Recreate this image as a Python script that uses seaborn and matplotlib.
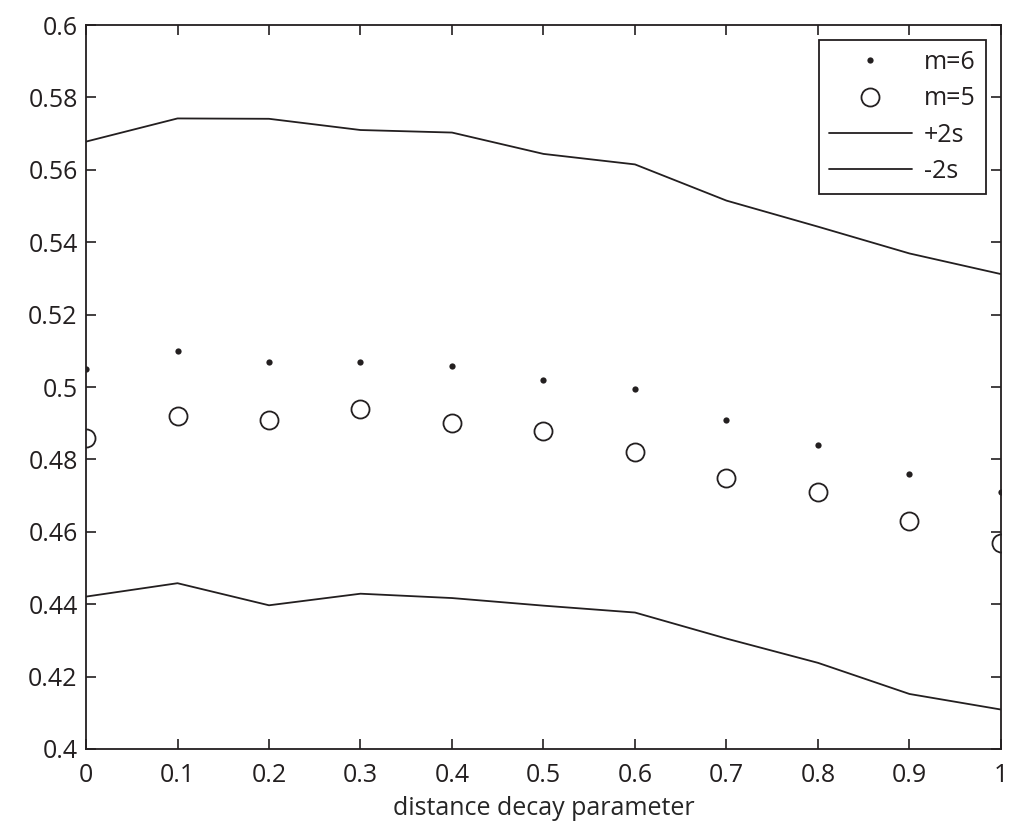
import matplotlib
matplotlib.use("Agg")
import matplotlib.pyplot as plt
import seaborn as sns
import pandas as pd

# distance decay parameter values
decay = [0.0, 0.1, 0.2, 0.3, 0.4, 0.5, 0.6, 0.7, 0.8, 0.9, 1.0]

m6 = [0.5049, 0.5099, 0.5069, 0.5069, 0.5059, 0.5019, 0.4994, 0.4909, 0.4840, 0.4760, 0.4709]
m5 = [0.4860, 0.4920, 0.4909, 0.4939, 0.4900, 0.4879, 0.4820, 0.4750, 0.4710, 0.4631, 0.4570]
plus2s = [0.5678, 0.5742, 0.5741, 0.5710, 0.5703, 0.5644, 0.5615, 0.5515, 0.5443, 0.5369, 0.5312]
minus2s = [0.4421, 0.4458, 0.4397, 0.4429, 0.4417, 0.4396, 0.4377, 0.4305, 0.4238, 0.4152, 0.4109]

xticks = [0, 0.1, 0.2, 0.3, 0.4, 0.5, 0.6, 0.7, 0.8, 0.9, 1]
xticklabels = ['0', '0.1', '0.2', '0.3', '0.4', '0.5', '0.6', '0.7', '0.8', '0.9', '1']
yticks = [0.4, 0.42, 0.44, 0.46, 0.48, 0.5, 0.52, 0.54, 0.56, 0.58, 0.6]
yticklabels = ['0.4', '0.42', '0.44', '0.46', '0.48', '0.5', '0.52', '0.54', '0.56', '0.58', '0.6']

df = pd.DataFrame({'decay': decay, 'm6': m6, 'm5': m5, 'plus2s': plus2s, 'minus2s': minus2s})

sns.set_style('ticks')
plt.rcParams['font.family'] = ['Open Sans', 'DejaVu Sans']
plt.rcParams['text.color'] = '#231f20'
plt.rcParams['xtick.color'] = '#231f20'
plt.rcParams['ytick.color'] = '#231f20'

fig = plt.figure(figsize=(10.24, 8.35), dpi=100)
ax = fig.add_axes([0.084, 0.103, 0.8935, 0.867])

sns.lineplot(data=df, x='decay', y='m6', ax=ax, linestyle='', marker='o', markersize=4.5,
             color='#231f20', markeredgewidth=0, label='m=6')
sns.lineplot(data=df, x='decay', y='m5', ax=ax, linestyle='', marker='o', markersize=13,
             markerfacecolor='none', markeredgecolor='#231f20', markeredgewidth=1.3,
             color='#231f20', label='m=5')
sns.lineplot(data=df, x='decay', y='plus2s', ax=ax, color='#231f20', linewidth=1.3, label='+2s')
sns.lineplot(data=df, x='decay', y='minus2s', ax=ax, color='#231f20', linewidth=1.3, label='-2s')

ax.set_xlim(0, 1)
ax.set_ylim(0.4, 0.6)
ax.set_xticks(xticks)
ax.set_xticklabels(xticklabels)
ax.set_yticks(yticks)
ax.set_yticklabels(yticklabels)
ax.tick_params(direction='in', length=7, width=1.2, labelsize=18, top=True, right=True)
ax.tick_params(axis='x', pad=10)
ax.tick_params(axis='y', pad=6)
for sp in ax.spines.values():
    sp.set_linewidth(1.3)
    sp.set_color('#231f20')
    sp.set_visible(True)

ax.set_xlabel('distance decay parameter', fontsize=18, labelpad=6)
ax.set_ylabel('')

leg = ax.legend(loc='upper right', fontsize=18, frameon=True, fancybox=False, framealpha=1,
                edgecolor='#231f20', handlelength=3.3, borderaxespad=0.6, labelspacing=0.45,
                handletextpad=0.5, borderpad=0.4)
leg.get_frame().set_linewidth(1.3)

fig.savefig('out.png', dpi=100)
